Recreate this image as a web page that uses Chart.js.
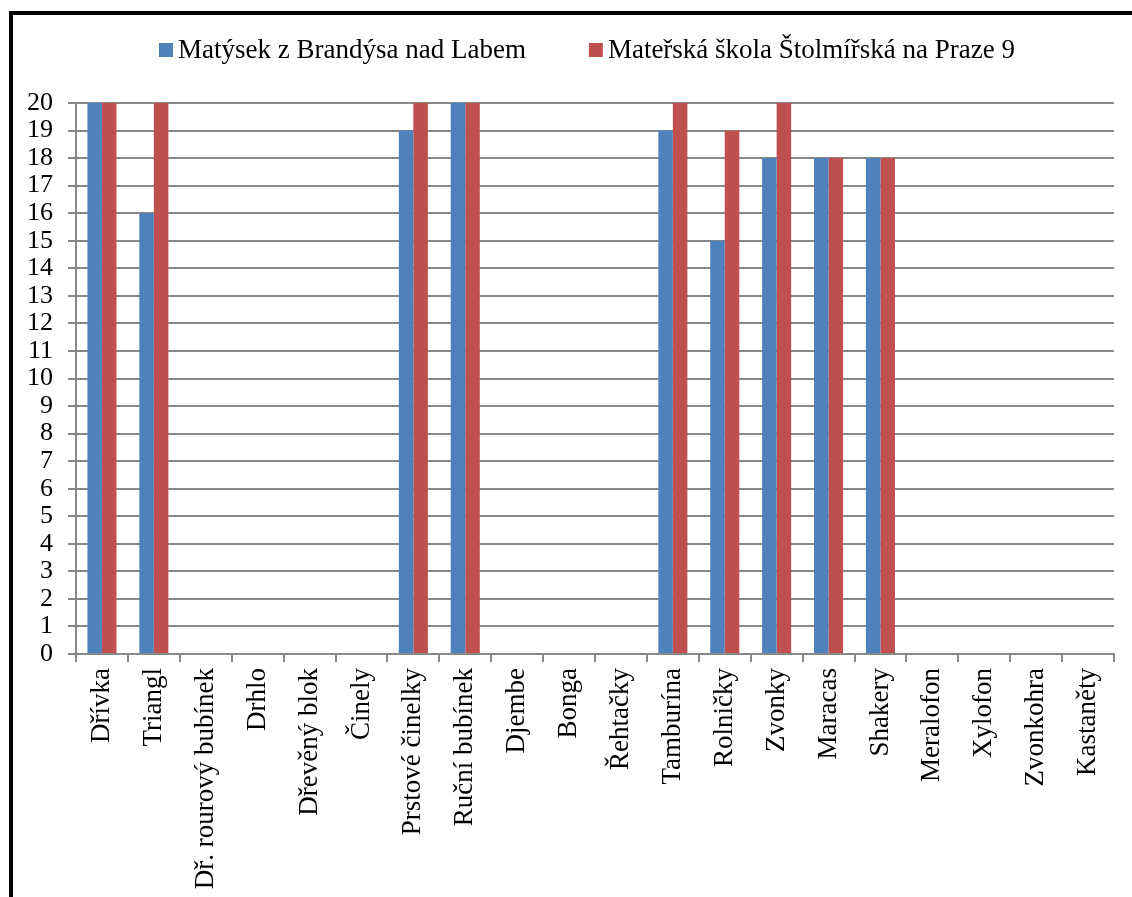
<!DOCTYPE html>
<html>
<head>
<meta charset="utf-8">
<script src="https://cdn.jsdelivr.net/npm/chart.js@4"></script>
<style>
  body { margin: 0; background: #fff; overflow: hidden; }
  #wrap { position: absolute; left: 0; top: 0; width: 1132px; height: 897px; }
  #frame { position: absolute; left: 9px; top: 11px; width: 1140px; height: 900px;
           border: 4px solid #000; box-sizing: border-box; pointer-events: none; }
</style>
</head>
<body>
<div id="wrap"><canvas id="chart" width="1132" height="897"></canvas></div>
<div id="frame"></div>
<script>
const categories = ["Dřívka", "Triangl", "Dř. rourový bubínek", "Drhlo", "Dřevěný blok", "Činely",
  "Prstové činelky", "Ruční bubínek", "Djembe", "Bonga", "Řehtačky", "Tamburína", "Rolničky",
  "Zvonky", "Maracas", "Shakery", "Meralofon", "Xylofon", "Zvonkohra", "Kastaněty"];
const brandys = [20, 16, 0, 0, 0, 0, 19, 20, 0, 0, 0, 19, 15, 18, 18, 18, 0, 0, 0, 0];
const stolmirska = [20, 20, 0, 0, 0, 0, 20, 20, 0, 0, 0, 20, 19, 20, 18, 18, 0, 0, 0, 0];

const serif = "'Liberation Serif', 'Times New Roman', serif";

// legend drawn by hand: Excel-like spacing (small box-text gap, wide item gap)
const topLegend = {
  id: "topLegend",
  afterDraw(chart) {
    const ctx = chart.ctx;
    ctx.save();
    ctx.font = "27px " + serif;
    ctx.textBaseline = "middle";
    ctx.textAlign = "left";
    let x = 159;
    const y = 50;
    chart.data.datasets.forEach((ds) => {
      ctx.fillStyle = ds.backgroundColor;
      ctx.fillRect(x, y - 7, 14, 14);
      ctx.fillStyle = "#000";
      ctx.fillText(ds.label, x + 19, y + 1);
      x += 19 + ctx.measureText(ds.label).width + 63;
    });
    ctx.restore();
  },
};

new Chart(document.getElementById("chart").getContext("2d"), {
  type: "bar",
  data: {
    labels: categories,
    datasets: [
      { label: "Matýsek z Brandýsa nad Labem", data: brandys, backgroundColor: "#4F81BD" },
      { label: "Mateřská škola Štolmířská na Praze 9", data: stolmirska, backgroundColor: "#C0504D" },
    ],
  },
  plugins: [topLegend],
  options: {
    responsive: false,
    animation: false,
    categoryPercentage: 0.56,
    barPercentage: 1,
    layout: { padding: { top: 103, right: 18, left: 0, bottom: 0 } },
    plugins: {
      legend: { display: false },
      tooltip: { enabled: false },
    },
    scales: {
      x: {
        grid: { offset: true, drawOnChartArea: false, color: "#888", lineWidth: 2, tickLength: 8 },
        border: { color: "#888", width: 2 },
        ticks: {
          font: { family: serif, size: 27 },
          color: "#000",
          minRotation: 90,
          maxRotation: 90,
          autoSkip: false,
          padding: 6,
        },
        afterFit: (s) => { s.height = 243; },
      },
      y: {
        min: 0,
        max: 20,
        grid: { color: "#888", lineWidth: 2, tickLength: 8 },
        border: { color: "#888", width: 2 },
        ticks: {
          stepSize: 1,
          autoSkip: false,
          font: { family: serif, size: 26 },
          color: "#000",
          padding: 15,
        },
        afterFit: (s) => { s.width = 76; },
      },
    },
  },
});
</script>
</body>
</html>
